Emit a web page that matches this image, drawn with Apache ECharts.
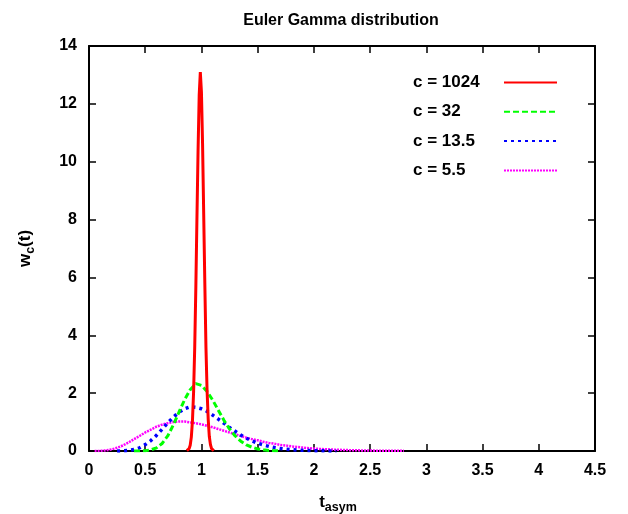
<!DOCTYPE html>
<html>
<head>
<meta charset="utf-8">
<script src="https://cdn.jsdelivr.net/npm/echarts@6/dist/echarts.min.js"></script>
<style>
  html, body { margin: 0; padding: 0; background: #fff; }
  #main { width: 628px; height: 514px; }
</style>
</head>
<body>
<div id="main"></div>
<script>
// values
const xTicks = [0, 0.5, 1, 1.5, 2, 2.5, 3, 3.5, 4, 4.5]
const yTicks = [0, 2, 4, 6, 8, 10, 12, 14]
const seriesNames = ['c = 1024', 'c = 32', 'c = 13.5', 'c = 5.5']

const t1024 = [0.87, 0.88, 0.89, 0.90, 0.91, 0.92, 0.93, 0.94, 0.95, 0.96, 0.97, 0.98, 0.99, 1.00, 1.01, 1.02, 1.03, 1.04, 1.05, 1.06, 1.07, 1.08, 1.09, 1.10, 1.11]
const w1024 = [0.01, 0.03, 0.08, 0.2, 0.48, 1.04, 2.02, 3.55, 5.63, 8.06, 10.4, 12.3, 13.1, 12.4, 10.6, 8.2, 5.8, 3.6, 2.1, 1.1, 0.5, 0.22, 0.08, 0.03, 0.01]

const t32 = [0.40, 0.45, 0.50, 0.55, 0.60, 0.65, 0.70, 0.75, 0.80, 0.85, 0.90, 0.95, 1.00, 1.05, 1.10, 1.15, 1.20, 1.25, 1.30, 1.35, 1.40, 1.45, 1.50, 1.55, 1.60, 1.65, 1.70]
const w32 = [0.0003, 0.002, 0.01, 0.04, 0.11, 0.26, 0.52, 0.90, 1.34, 1.77, 2.12, 2.33, 2.27, 2.06, 1.76, 1.41, 1.06, 0.76, 0.52, 0.34, 0.21, 0.13, 0.07, 0.04, 0.02, 0.012, 0.006]

const t135 = [0.25, 0.30, 0.35, 0.40, 0.45, 0.50, 0.55, 0.60, 0.65, 0.70, 0.75, 0.80, 0.85, 0.90, 0.95, 1.00, 1.05, 1.10, 1.15, 1.20, 1.25, 1.30, 1.35, 1.40, 1.45, 1.50, 1.55, 1.60, 1.65, 1.70, 1.75, 1.80, 1.85, 1.90, 1.95, 2.00, 2.05, 2.10, 2.15, 2.20]
const w135 = [0.001, 0.005, 0.02, 0.05, 0.11, 0.22, 0.36, 0.54, 0.75, 0.97, 1.17, 1.34, 1.46, 1.53, 1.51, 1.46, 1.37, 1.24, 1.10, 0.96, 0.81, 0.68, 0.55, 0.44, 0.35, 0.27, 0.21, 0.16, 0.12, 0.09, 0.065, 0.046, 0.033, 0.024, 0.017, 0.012, 0.008, 0.005, 0.003, 0.002]

const t55 = [0.05, 0.10, 0.15, 0.20, 0.25, 0.30, 0.35, 0.40, 0.45, 0.50, 0.55, 0.60, 0.65, 0.70, 0.75, 0.80, 0.85, 0.90, 0.95, 1.00, 1.05, 1.10, 1.15, 1.20, 1.25, 1.30, 1.35, 1.40, 1.45, 1.50, 1.55, 1.60, 1.65, 1.70, 1.75, 1.80, 1.85, 1.90, 1.95, 2.00, 2.05, 2.10, 2.15, 2.20, 2.25, 2.30, 2.35, 2.40, 2.45, 2.50, 2.55, 2.60, 2.65, 2.70, 2.75, 2.80]
const w55 = [0.0002, 0.004, 0.02, 0.054, 0.11, 0.19, 0.29, 0.41, 0.52, 0.64, 0.74, 0.84, 0.91, 0.96, 1.0, 1.02, 1.02, 0.99, 0.96, 0.92, 0.87, 0.82, 0.76, 0.70, 0.64, 0.58, 0.52, 0.46, 0.41, 0.37, 0.32, 0.28, 0.25, 0.21, 0.19, 0.16, 0.14, 0.12, 0.10, 0.085, 0.072, 0.061, 0.052, 0.044, 0.037, 0.031, 0.026, 0.022, 0.018, 0.015, 0.012, 0.010, 0.008, 0.007, 0.006, 0.005]

const font = 'Liberation Sans, Arial, sans-serif'

function pairs(xs, ys) {
  return xs.map((x, i) => [x, ys[i]])
}

function makeAxis(ticks, opts) {
  return Object.assign({
    type: 'value',
    min: ticks[0],
    max: ticks[ticks.length - 1],
    interval: ticks[1] - ticks[0],
    splitLine: { show: false },
    axisLine: { show: true, onZero: false, lineStyle: { color: '#000', width: 2 } },
    axisTick: { show: true, inside: true, length: 7, lineStyle: { color: '#000', width: 1.5 } },
    axisLabel: { show: false }
  }, opts)
}

const tickLabel = { show: true, color: '#000', fontFamily: font, fontWeight: 'bold', fontSize: 16 }
const nameRich = {
  b: { fontFamily: font, fontWeight: 'bold', fontSize: 17, color: '#000' },
  s: { fontFamily: font, fontWeight: 'bold', fontSize: 12.5, color: '#000', padding: [10, 0, 0, 0] }
}

const chart = echarts.init(document.getElementById('main'))
chart.setOption({
  animation: false,
  backgroundColor: '#fff',
  title: {
    text: 'Euler Gamma distribution',
    left: 336,
    top: 8,
    textAlign: 'center',
    textStyle: { fontFamily: font, fontWeight: 'bold', fontSize: 16, color: '#000' }
  },
  grid: { left: 89, right: 33, top: 46, bottom: 63, containLabel: false, outerBoundsMode: 'none' },
  legend: {
    data: seriesNames,
    orient: 'vertical',
    left: 408,
    top: 69,
    align: 'right',
    itemWidth: 53,
    itemHeight: 16,
    itemGap: 12.3,
    itemStyle: { opacity: 0 },
    formatter: '{n|{name}}',
    textStyle: {
      fontFamily: font, fontWeight: 'bold', fontSize: 17, color: '#000', lineHeight: 16,
      rich: { n: { width: 86, lineHeight: 16, align: 'left', fontFamily: font, fontWeight: 'bold', fontSize: 17, color: '#000' } }
    }
  },
  xAxis: [
    makeAxis(xTicks, {
      position: 'bottom',
      axisLabel: Object.assign({ margin: 12 }, tickLabel),
      name: '{b|t}{s|asym}',
      nameLocation: 'middle',
      nameGap: 40,
      nameTextStyle: { rich: nameRich, padding: [0, 8, 0, 0] }
    }),
    makeAxis(xTicks, { position: 'top' })
  ],
  yAxis: [
    makeAxis(yTicks, {
      position: 'left',
      axisLabel: Object.assign({ margin: 12 }, tickLabel),
      name: '{b|w}{s|c}{b|(t)}',
      nameLocation: 'middle',
      nameGap: 52,
      nameRotate: 90,
      nameTextStyle: { rich: nameRich }
    }),
    makeAxis(yTicks, { position: 'right' })
  ],
  series: [
    {
      name: seriesNames[0], type: 'line', symbol: 'none', z: 5,
      data: pairs(t1024, w1024),
      itemStyle: { color: '#ff0000' },
      lineStyle: { color: '#ff0000', width: 3, type: 'solid' }
    },
    {
      name: seriesNames[1], type: 'line', symbol: 'none', z: 4,
      data: pairs(t32, w32),
      itemStyle: { color: '#00ff00' },
      lineStyle: { color: '#00ff00', width: 3, type: [6, 3] }
    },
    {
      name: seriesNames[2], type: 'line', symbol: 'none', z: 3,
      data: pairs(t135, w135),
      itemStyle: { color: '#0000ff' },
      lineStyle: { color: '#0000ff', width: 3.5, type: [3, 4] }
    },
    {
      name: seriesNames[3], type: 'line', symbol: 'none', z: 2,
      data: pairs(t55, w55),
      itemStyle: { color: '#ff00ff' },
      lineStyle: { color: '#ff00ff', width: 2.5, type: [2, 1] }
    }
  ]
})
</script>
</body>
</html>
